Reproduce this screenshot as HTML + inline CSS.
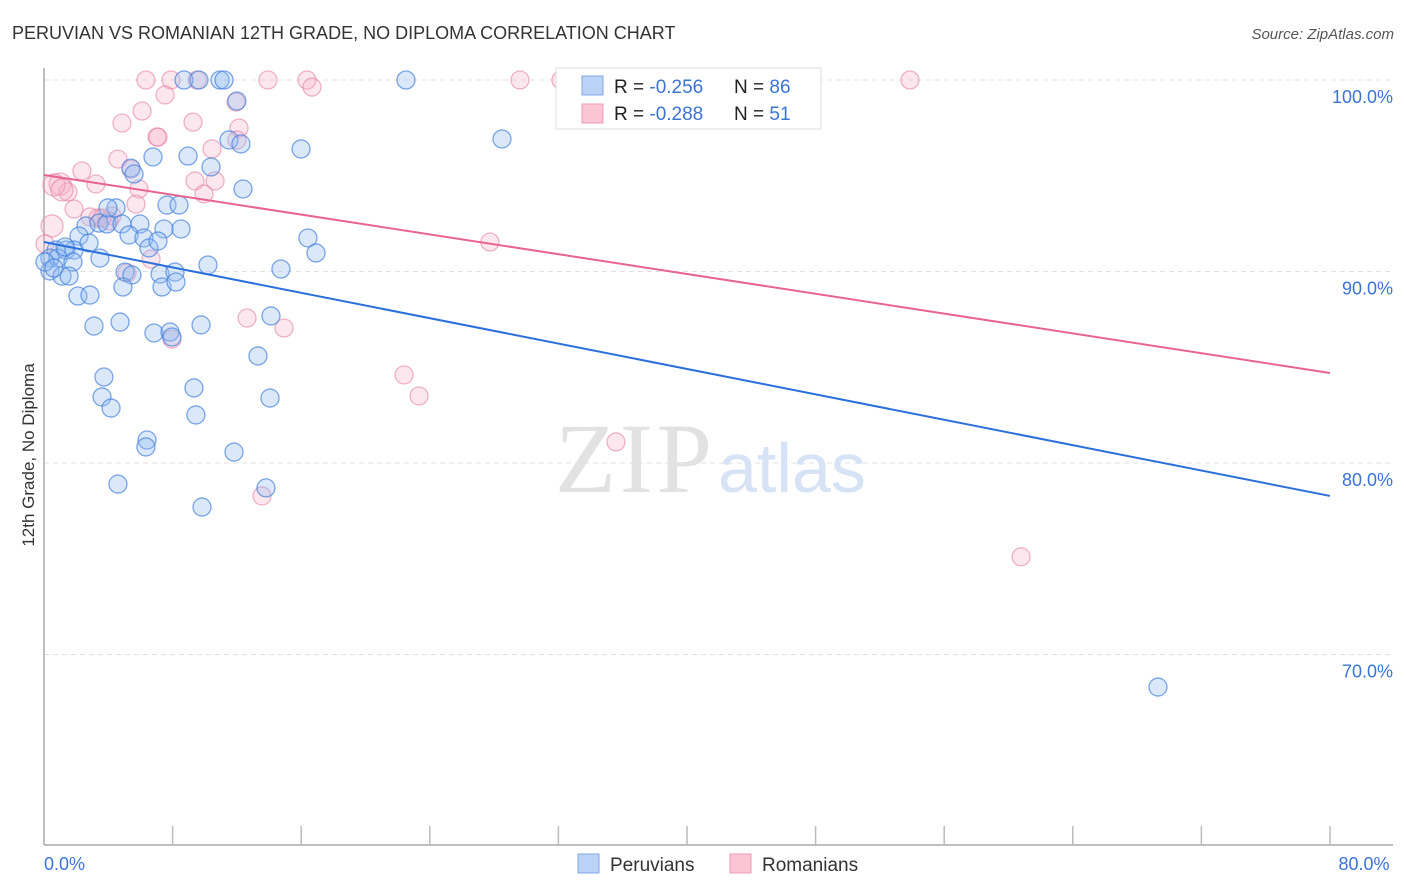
<!DOCTYPE html>
<html><head><meta charset="utf-8"><style>
body{margin:0;background:#fff;font-family:"Liberation Sans",sans-serif;}
svg{display:block}
</style></head><body>
<svg id="chart" width="1406" height="892">
<text x="12" y="39" font-size="18" fill="#333">PERUVIAN VS ROMANIAN 12TH GRADE, NO DIPLOMA CORRELATION CHART</text>
<text x="1394" y="39" font-size="15" fill="#555" font-style="italic" text-anchor="end">Source: ZipAtlas.com</text>
<text transform="translate(34,455) rotate(-90)" font-size="17" fill="#333" text-anchor="middle">12th Grade, No Diploma</text>
<g id="grid"></g>
<text x="712" y="492" font-size="100" font-family="Liberation Serif,serif" fill="#e2e2e2" text-anchor="end" textLength="157">ZIP</text>
<text x="718" y="492" font-size="70" fill="#d6e2f5">atlas</text>
<g id="pts"></g>
<g id="lines"></g>
<g>
<rect x="556" y="68" width="265" height="61" fill="#fff" stroke="#ddd"/>
<rect x="582" y="76" width="21" height="19" fill="#b9d2f5" stroke="#7fa8e6"/>
<rect x="582" y="104" width="21" height="19" fill="#fbc5d6" stroke="#ec9bb8"/>
<text x="614" y="93" font-size="19" fill="#222">R = <tspan fill="#3a74d6">-0.256</tspan></text>
<text x="734" y="93" font-size="19" fill="#222">N = <tspan fill="#3a74d6">86</tspan></text>
<text x="614" y="120" font-size="19" fill="#222">R = <tspan fill="#3a74d6">-0.288</tspan></text>
<text x="734" y="120" font-size="19" fill="#222">N = <tspan fill="#3a74d6"> 51</tspan></text>
</g>
<g>
<rect x="578" y="854" width="21" height="19" fill="#b9d2f5" stroke="#7fa8e6"/>
<text x="610" y="871" font-size="19" fill="#333">Peruvians</text>
<rect x="730" y="854" width="21" height="19" fill="#fbc5d6" stroke="#ec9bb8"/>
<text x="762" y="871" font-size="19" fill="#333">Romanians</text>
</g>
</svg>
<script>
const yTicks=[100,90,80,70];
const xTickLabels=["0.0%","80.0%"];
const peruX=[8.71,9.64,10.95,11.2,22.52,12.0,28.49,11.51,12.25,15.99,6.78,8.96,10.39,5.41,5.6,12.38,7.65,8.4,4.48,2.61,3.42,3.92,4.85,5.97,8.52,7.46,5.29,6.22,16.42,2.18,2.8,6.53,7.09,0.75,1.37,1.87,0.37,0.87,3.48,1.8,10.2,0.37,14.74,1.12,1.56,7.22,8.15,5.04,5.47,4.91,7.34,8.21,2.11,2.86,3.11,4.73,9.77,14.12,6.84,7.84,7.96,13.31,3.73,9.33,3.61,14.06,4.17,9.45,6.41,6.34,11.82,4.6,13.81,9.83,69.3,16.92,0.06,0.62,3.98,1.31];
const peruY=[100,100,100,100,100,98.9,96.92,96.87,96.66,96.4,95.98,96.03,95.46,95.4,95.09,94.31,93.47,93.47,93.32,92.38,92.53,92.48,92.48,92.48,92.22,92.22,91.91,91.75,91.75,91.85,91.49,91.23,91.59,91.12,91.12,91.12,90.7,90.7,90.7,90.5,90.34,90.03,90.13,89.76,89.76,89.87,89.97,89.97,89.82,89.19,89.19,89.45,88.72,88.77,87.15,87.36,87.21,87.68,86.79,86.84,86.58,85.59,84.49,83.92,83.45,83.39,82.87,82.51,81.2,80.84,80.57,78.9,78.7,77.7,68.3,90.97,90.5,90.18,93.32,91.28];
const romX=[6.34,7.9,9.52,13.93,16.36,29.61,32.16,53.87,16.67,7.53,11.94,6.1,4.85,12.13,7.03,10.45,4.6,5.41,2.36,1.0,3.23,5.91,9.39,10.64,1.49,9.95,5.72,1.87,0.5,2.86,4.23,3.36,4.04,27.74,0.06,6.66,5.16,12.63,14.93,7.96,22.4,23.33,35.58,13.56,60.78,0.62,12.0,7.09,3.61,1.12,9.27];
const romY=[100,100,100,100,100,100,100,100,99.63,99.22,98.85,98.38,97.75,97.49,97.02,96.4,95.87,95.35,95.25,94.57,94.57,94.31,94.73,94.73,94.15,94.05,93.52,93.26,92.38,92.85,92.9,92.79,92.64,91.54,91.44,90.65,89.92,87.57,87.05,86.47,84.6,83.5,81.1,78.28,75.1,94.52,96.87,97.02,92.79,94.26,97.8];
const trendPeru=[91.54,78.28];
const trendRom=[95.04,84.70];
const NS="http://www.w3.org/2000/svg";
const sx=v=>44+v*1286/80;
const sy=v=>80+(100-v)*19.15;
function mk(tag,attrs,parent){const e=document.createElementNS(NS,tag);for(const k in attrs)e.setAttribute(k,attrs[k]);parent.appendChild(e);return e;}
const grid=document.getElementById('grid');
yTicks.forEach(t=>{
 const l=mk('line',{x1:44,x2:1393,y1:sy(t),y2:sy(t),stroke:'#e0e0e0','stroke-dasharray':'5,4'},grid);
 
 
 const tx=mk('text',{x:1393,y:sy(t)+23,'font-size':18,fill:'#3a74d6','text-anchor':'end'},grid);
 tx.textContent=t.toFixed(1)+'%';
 
 
});
const ax=mk('line',{x1:44,x2:44,y1:68,y2:845,stroke:'#aaa','stroke-width':1.5},grid);


const bx=mk('line',{x1:44,x2:1393,y1:845,y2:845,stroke:'#aaa','stroke-width':1.5},grid);


for(let i=1;i<=10;i++){
 const t=mk('line',{x1:sx(i*8),x2:sx(i*8),y1:826,y2:845,stroke:'#bbb','stroke-width':1.5},grid);
 
 
}
[[0,'start',xTickLabels[0]],[80,'middle',xTickLabels[1]]].forEach(([v,a,s])=>{
 const tx=mk('text',{x:v===0?44:1364,y:870,'font-size':18,fill:'#3a74d6','text-anchor':a},grid);
 tx.textContent=s;
 
 
});
const pts=document.getElementById('pts');
function draw(X,Y,fill,stroke,name){
 X.forEach((x,i)=>{
  const r=(x<1.3&&Y[i]>92)?11:9;
  const c=mk('circle',{cx:sx(x),cy:sy(Y[i]),r:r,fill:fill,stroke:stroke,'stroke-width':1.3},pts);
  
  
 });
}
draw(romX,romY,'rgba(245,175,200,0.3)','rgba(230,130,165,0.6)','point-romanian');
draw(peruX,peruY,'rgba(150,190,240,0.35)','rgba(70,130,220,0.7)','point-peruvian');
const lines=document.getElementById('lines');
const lp=mk('line',{x1:sx(0),y1:sy(trendPeru[0]),x2:sx(80),y2:sy(trendPeru[1]),stroke:'#2a6fdc','stroke-width':2},lines);


const lr=mk('line',{x1:sx(0),y1:sy(trendRom[0]),x2:sx(80),y2:sy(trendRom[1]),stroke:'#e8648f','stroke-width':2},lines);


</script>
</body></html>
